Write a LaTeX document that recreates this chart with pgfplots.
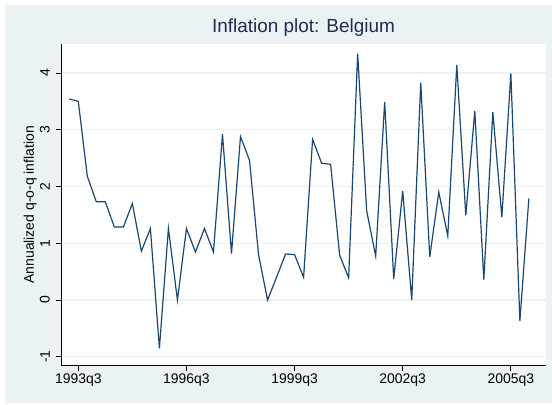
\documentclass[border=0pt]{standalone}
\usepackage{pgfplots}
\pgfplotsset{compat=1.18}
\usepackage{fontspec}
\setmainfont{Liberation Sans}
\definecolor{bg}{RGB}{234,242,243}
\definecolor{gridc}{RGB}{234,242,243}
\definecolor{stnavy}{RGB}{26,71,111}
\definecolor{ttl}{RGB}{30,45,80}

\pgfplotstableread{
t v
-1 3.54
0 3.50
1 2.18
2 1.73
3 1.73
4 1.285
5 1.285
6 1.70
7 0.86
8 1.26
9 -0.85
10 1.26
11 0.0
12 1.26
13 0.845
14 1.26
15 0.845
16 2.92
17 0.82
18 2.88
19 2.46
20 0.80
21 0.0
22 0.40
23 0.81
24 0.80
25 0.40
26 2.83
27 2.41
28 2.39
29 0.79
30 0.39
31 4.34
32 1.57
33 0.775
34 3.49
35 0.375
36 1.92
37 0.0
38 3.83
39 0.76
40 1.90
41 1.13
42 4.14
43 1.49
44 3.33
45 0.36
46 3.31
47 1.46
48 3.99
49 -0.37
50 1.79
}\infl

\begin{document}
\begin{tikzpicture}
\fill[white] (0bp,0bp) rectangle (552bp,405bp);
\fill[bg] (5bp,2bp) rectangle (552bp,400bp);
\begin{axis}[
  at={(61bp,39.3bp)}, anchor=south west,
  scale only axis, width=485bp, height=321.7bp,
  xmin=-1.92, xmax=51.9, ymin=-1.157, ymax=4.51,
  axis background/.style={fill=white},
  axis x line*=bottom, axis y line*=left,
  axis line style={-, black, line width=0.8bp},
  xtick={0,12,24,36,48},
  xticklabels={1993q3,1996q3,1999q3,2002q3,2005q3},
  ytick={-1,0,1,2,3,4},
  yticklabels={-1,0,1,2,3,4},
  tick align=outside, major tick length=5bp,
  tick style={black, line width=0.8bp},
  ymajorgrids, grid style={gridc, line width=1.2bp},
  ticklabel style={font=\fontsize{14}{16}\selectfont, text=black},
  yticklabel style={rotate=90, anchor=south, inner sep=0pt, yshift=6bp},
  xticklabel style={anchor=north, inner sep=0pt, yshift=-3bp},
  title={Inflation plot: Belgium},
  title style={at={(axis description cs:0.5,1)}, anchor=base, yshift=5.5bp,
    font=\fontsize{19}{22}\selectfont, text=ttl, inner sep=0pt},
  ylabel={Annualized q-o-q inflation},
  ylabel style={at={(axis description cs:-0.0557,0.5)}, anchor=base,
    font=\fontsize{14}{16}\selectfont, inner sep=0pt},
]
\addplot[stnavy, line width=1.2bp] table[x=t, y=v] {\infl};
\end{axis}
\pgfresetboundingbox
\useasboundingbox (0bp,0bp) rectangle (552bp,405bp);
\end{tikzpicture}
\end{document}
